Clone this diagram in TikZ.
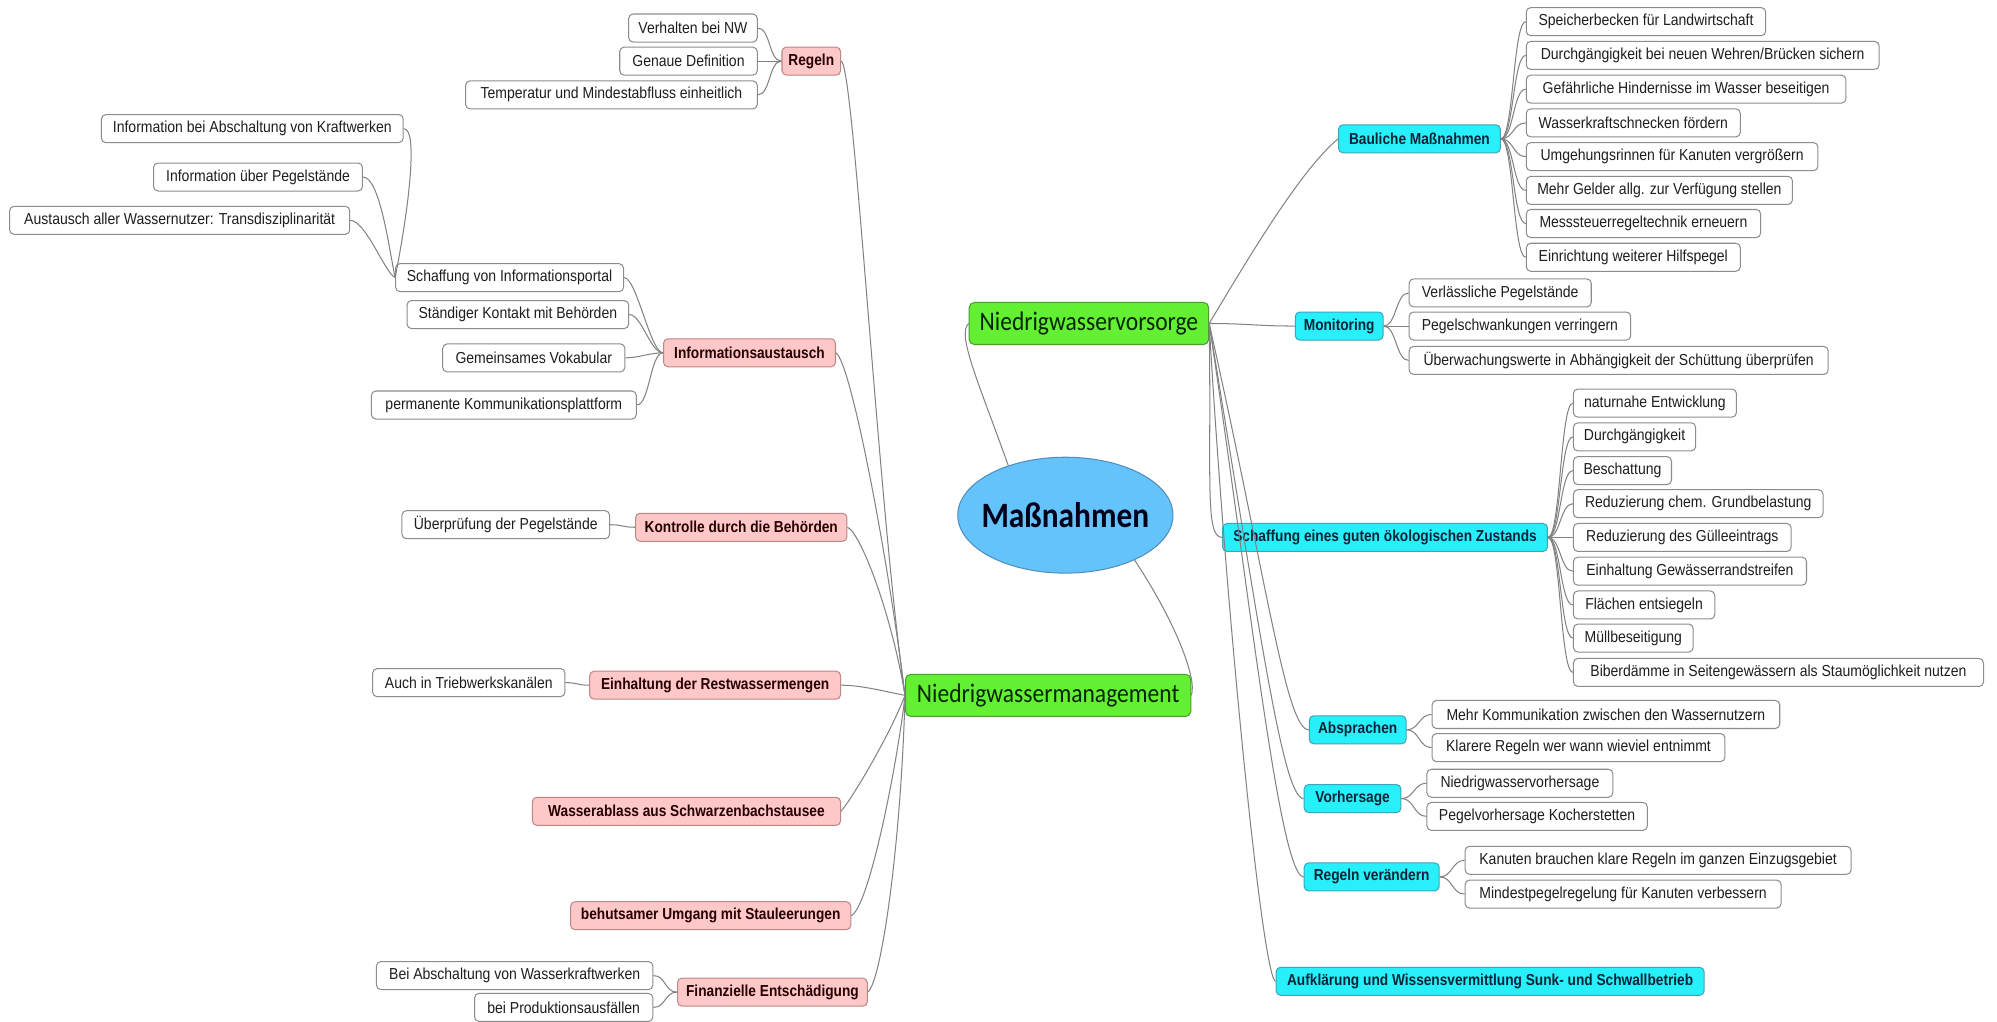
\documentclass[tikz,border=0pt]{standalone}
\usepackage{fontspec}
\usetikzlibrary{shapes.geometric}
\newfontfamily\lfam[FakeStretch=0.88]{Liberation Sans}
\newfontfamily\bfam[FakeStretch=0.86]{Liberation Sans}
\newfontfamily\cfam[FakeStretch=0.88]{Carlito}
\newcommand\lfont{\lfam\fontsize{12.5}{14}\selectfont}
\newcommand\bfont{\bfam\bfseries\fontsize{12.5}{14}\selectfont}
\newcommand\gfont{\cfam\fontsize{21}{24}\selectfont}
\newcommand\cfont{\cfam\bfseries\fontsize{28}{32}\selectfont}
\definecolor{pinkf}{RGB}{255,200,200}
\definecolor{pinkd}{RGB}{190,135,135}
\definecolor{cyanf}{RGB}{40,240,250}
\definecolor{cyand}{RGB}{60,165,185}
\definecolor{cyant}{RGB}{10,35,55}
\definecolor{greenf}{RGB}{100,240,50}
\definecolor{greend}{RGB}{70,160,45}
\definecolor{bluef}{RGB}{100,195,250}
\definecolor{blued}{RGB}{80,140,190}
\definecolor{leafd}{RGB}{140,140,140}
\definecolor{linec}{RGB}{130,130,130}
\definecolor{textd}{RGB}{30,30,30}
\tikzset{
  box/.style={rounded corners=3.5pt, minimum height=22pt, inner xsep=4pt, inner ysep=0pt, line width=0.8pt},
  lf/.style={box, draw=leafd, fill=white, font=\lfont, text=textd},
  pk/.style={box, draw=pinkd, fill=pinkf, font=\bfont, text=black!85!red},
  cy/.style={box, draw=cyand, fill=cyanf, font=\bfont, text=cyant},
  gr/.style={box, draw=greend, fill=greenf, font=\gfont, text=black!85!green, minimum height=33pt, rounded corners=4pt},
  ctr/.style={ellipse, draw=blued, fill=bluef, line width=0.8pt, inner sep=0pt, minimum width=169pt, minimum height=91pt, font=\cfont, text=black!90!blue},
  cn/.style={draw=linec, line width=0.8pt}
}
\newcommand\lconn[2]{\draw[cn] (#1.west) .. controls +(-10,0) and +(10,0) .. (#2.east);}
\newcommand\rconn[2]{\draw[cn] (#1.east) .. controls +(10,0) and +(-10,0) .. (#2.west);}
\begin{document}
\begin{tikzpicture}[x=1pt,y=-1pt]
\fill[white] (0,0) rectangle (1568,802);
\useasboundingbox (0,0) rectangle (1568,802);

% centre
\node[ctr] (mass) at (836.5,404.5) {\makebox[0pt][c]{Maßnahmen}};
\node[gr, minimum width=188pt] (vorsorge) at (855,254) {Niedrigwasservorsorge};
\node[gr, minimum width=224pt] (mgmt) at (823,546) {Niedrigwassermanagement};

% left pink
\node[pk, minimum width=46pt] (regeln) at (637,48) {Regeln};
\node[pk, minimum width=135pt] (infoaus) at (588.5,277) {Informationsaustausch};
\node[pk, minimum width=166pt] (kontrolle) at (582,414) {Kontrolle durch die Behörden};
\node[pk, minimum width=197pt] (einhaltung) at (561.5,538) {Einhaltung der Restwassermengen};
\node[pk, minimum width=242pt] (wasserablass) at (539,637) {Wasserablass aus Schwarzenbachstausee};
\node[pk, minimum width=220pt] (behutsam) at (558,719) {behutsamer Umgang mit Stauleerungen};
\node[pk, minimum width=149pt] (finanz) at (606.5,779) {Finanzielle Entschädigung};

% left leaves
\node[lf, anchor=east, minimum width=101pt] (verhalten) at (595,22) {Verhalten bei NW};
\node[lf, anchor=east, minimum width=108pt] (genaue) at (595,48) {Genaue Definition};
\node[lf, anchor=east, minimum width=229pt] (temperatur) at (595,74.5) {Temperatur und Mindestabfluss einheitlich};
\node[lf, anchor=east, minimum width=237pt] (infoabsch) at (317,101) {Information bei Abschaltung von Kraftwerken};
\node[lf, anchor=east, minimum width=164pt] (infopegel) at (285,139) {Information über Pegelstände};
\node[lf, anchor=east, minimum width=267pt] (austausch) at (275,173) {Austausch aller Wassernutzer: Transdisziplinarität};
\node[lf, anchor=east, minimum width=179pt] (portal) at (490,218) {Schaffung von Informationsportal};
\node[lf, anchor=east, minimum width=174pt] (kontakt) at (494,247) {Ständiger Kontakt mit Behörden};
\node[lf, anchor=east, minimum width=143pt] (vokabular) at (491,281) {Gemeinsames Vokabular};
\node[lf, anchor=east, minimum width=208pt] (plattform) at (500,318) {permanente Kommunikationsplattform};
\node[lf, anchor=east, minimum width=163pt] (pruefung) at (479,412) {Überprüfung der Pegelstände};
\node[lf, anchor=east, minimum width=151pt] (triebwerk) at (444,536) {Auch in Triebwerkskanälen};
\node[lf, anchor=east, minimum width=217pt] (beiabsch) at (513,766) {Bei Abschaltung von Wasserkraftwerken};
\node[lf, anchor=east, minimum width=140pt] (produktion) at (513,791) {bei Produktionsausfällen};

% right cyan
\node[cy, minimum width=127pt] (bauliche) at (1114.5,109) {Bauliche Maßnahmen};
\node[cy, minimum width=69pt] (monitoring) at (1051.5,256) {Monitoring};
\node[cy, minimum width=255pt] (schaffung) at (1087.5,422) {Schaffung eines guten ökologischen Zustands};
\node[cy, minimum width=76pt] (absprachen) at (1066,573) {Absprachen};
\node[cy, minimum width=76pt] (vorhersage) at (1062,627) {Vorhersage};
\node[cy, minimum width=106pt] (regelnv) at (1077,688.5) {Regeln verändern};
\node[cy, minimum width=336pt] (aufkl) at (1170,770.5) {Aufklärung und Wissensvermittlung Sunk- und Schwallbetrieb};

% right leaves
\node[lf, anchor=west, minimum width=188pt] (b1) at (1198,17) {Speicherbecken für Landwirtschaft};
\node[lf, anchor=west, minimum width=277pt] (b2) at (1198,43.5) {Durchgängigkeit bei neuen Wehren/Brücken sichern};
\node[lf, anchor=west, minimum width=251pt] (b3) at (1198,70) {Gefährliche Hindernisse im Wasser beseitigen};
\node[lf, anchor=west, minimum width=168pt] (b4) at (1198,96.5) {Wasserkraftschnecken fördern};
\node[lf, anchor=west, minimum width=229pt] (b5) at (1198,123) {Umgehungsrinnen für Kanuten vergrößern};
\node[lf, anchor=west, minimum width=209pt] (b6) at (1198,149.5) {Mehr Gelder allg. zur Verfügung stellen};
\node[lf, anchor=west, minimum width=184pt] (b7) at (1198,175.5) {Messsteuerregeltechnik erneuern};
\node[lf, anchor=west, minimum width=168pt] (b8) at (1198,202) {Einrichtung weiterer Hilfspegel};

\node[lf, anchor=west, minimum width=143pt] (m1) at (1106,230) {Verlässliche Pegelstände};
\node[lf, anchor=west, minimum width=174pt] (m2) at (1106,256) {Pegelschwankungen verringern};
\node[lf, anchor=west, minimum width=329pt] (m3) at (1106,283) {Überwachungswerte in Abhängigkeit der Schüttung überprüfen};

\node[lf, anchor=west, minimum width=128pt] (s1) at (1235,316.5) {naturnahe Entwicklung};
\node[lf, anchor=west, minimum width=96pt] (s2) at (1235,343) {Durchgängigkeit};
\node[lf, anchor=west, minimum width=77pt] (s3) at (1235,369.5) {Beschattung};
\node[lf, anchor=west, minimum width=196pt] (s4) at (1235,395.5) {Reduzierung chem. Grundbelastung};
\node[lf, anchor=west, minimum width=171pt] (s5) at (1235,422) {Reduzierung des Gülleeintrags};
\node[lf, anchor=west, minimum width=183pt] (s6) at (1235,448.5) {Einhaltung Gewässerrandstreifen};
\node[lf, anchor=west, minimum width=111pt] (s7) at (1235,475) {Flächen entsiegeln};
\node[lf, anchor=west, minimum width=94pt] (s8) at (1235,501) {Müllbeseitigung};
\node[lf, anchor=west, minimum width=322pt] (s9) at (1235,528) {Biberdämme in Seitengewässern als Staumöglichkeit nutzen};

\node[lf, anchor=west, minimum width=273pt] (a1) at (1124,561) {Mehr Kommunikation zwischen den Wassernutzern};
\node[lf, anchor=west, minimum width=230pt] (a2) at (1124,587) {Klarere Regeln wer wann wieviel entnimmt};
\node[lf, anchor=west, minimum width=146pt] (v1) at (1120,615) {Niedrigwasservorhersage};
\node[lf, anchor=west, minimum width=173pt] (v2) at (1120,641) {Pegelvorhersage Kocherstetten};
\node[lf, anchor=west, minimum width=303pt] (r1) at (1150,675.5) {Kanuten brauchen klare Regeln im ganzen Einzugsgebiet};
\node[lf, anchor=west, minimum width=248pt] (r2) at (1150,702) {Mindestpegelregelung für Kanuten verbessern};

% connectors: centre
\draw[cn] (mass.139) .. controls +(-22,-62) and +(-10,8) .. (vorsorge.west);
\draw[cn] (mass.-33) .. controls +(30,45) and +(5,-14) .. (mgmt.east);

% Niedrigwasservorsorge
\draw[cn] (vorsorge.east) .. controls +(30,-50) and +(-30,25) .. (bauliche.west);
\draw[cn] (vorsorge.east) .. controls +(30,0) and +(-30,0) .. (monitoring.west);
\draw[cn] (vorsorge.east) .. controls +(2,120) and +(-14,0) .. (schaffung.west);
\draw[cn] (vorsorge.east) .. controls +(45,200) and +(-18,0) .. (absprachen.west);
\draw[cn] (vorsorge.east) .. controls +(41,250) and +(-16,0) .. (vorhersage.west);
\draw[cn] (vorsorge.east) .. controls +(31,206) and +(-19,0) .. (regelnv.west);
\draw[cn] (vorsorge.east) .. controls +(13,226) and +(-10,0) .. (aufkl.west);

% Niedrigwassermanagement
\draw[cn] (mgmt.west) .. controls +(-21,-146) and +(10,0) .. (regeln.east);
\draw[cn] (mgmt.west) .. controls +(-13,-106) and +(12,8) .. (infoaus.east);
\draw[cn] (mgmt.west) .. controls +(-11,-66) and +(10,4) .. (kontrolle.east);
\draw[cn] (mgmt.west) .. controls +(-20,-4) and +(15,0) .. (einhaltung.east);
\draw[cn] (mgmt.west) .. controls +(-11,29) and +(10,-12) .. (wasserablass.east);
\draw[cn] (mgmt.west) .. controls +(-6,54) and +(14,-7) .. (behutsam.east);
\draw[cn] (mgmt.west) .. controls +(-3,114) and +(11,-9) .. (finanz.east);

% left sub-branches
\foreach \c in {verhalten,genaue,temperatur} {\lconn{regeln}{\c}}
\foreach \c in {portal,kontakt,vokabular,plattform} {\lconn{infoaus}{\c}}
\lconn{kontrolle}{pruefung}
\lconn{einhaltung}{triebwerk}
\foreach \c in {beiabsch,produktion} {\lconn{finanz}{\c}}
\draw[cn] (portal.west) .. controls +(10,-50) and +(12,0) .. (infoabsch.east);
\draw[cn] (portal.west) .. controls +(-5,-25) and +(13,0) .. (infopegel.east);
\draw[cn] (portal.west) .. controls +(-8,-4) and +(12,0) .. (austausch.east);

% right sub-branches
\foreach \c in {b1,b2,b3,b4,b5,b6,b7,b8} {\rconn{bauliche}{\c}}
\foreach \c in {m1,m2,m3} {\rconn{monitoring}{\c}}
\foreach \c in {s1,s2,s3,s4,s5,s6,s7,s8,s9} {\rconn{schaffung}{\c}}
\foreach \c in {a1,a2} {\rconn{absprachen}{\c}}
\foreach \c in {v1,v2} {\rconn{vorhersage}{\c}}
\foreach \c in {r1,r2} {\rconn{regelnv}{\c}}
\end{tikzpicture}
\end{document}
